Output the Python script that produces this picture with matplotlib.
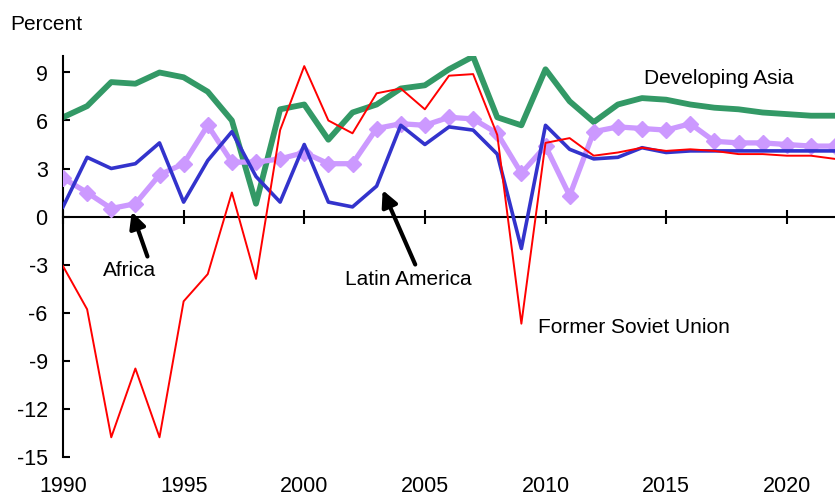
import matplotlib.pyplot as plt
import numpy as np

plt.rcParams['font.family'] = ['Liberation Sans', 'DejaVu Sans']
plt.rcParams['font.size'] = 15
plt.rcParams['axes.unicode_minus'] = False

years = np.arange(1990, 2023)

# 数据
dev_asia = [6.2, 6.9, 8.4, 8.3, 9.0, 8.7, 7.8, 6.0, 0.8, 6.7, 7.0, 4.8, 6.5, 7.0, 8.0,
            8.2, 9.2, 10.0, 6.2, 5.7, 9.2, 7.2, 5.9, 7.0, 7.4, 7.3, 7.0, 6.8, 6.7, 6.5,
            6.4, 6.3, 6.3]
fsu = [-3.1, -5.8, -13.8, -9.5, -13.8, -5.3, -3.6, 1.5, -3.9, 5.4, 9.4, 6.0, 5.2, 7.7,
       8.0, 6.7, 8.8, 8.9, 5.1, -6.7, 4.6, 4.9, 3.8, 4.0, 4.3, 4.1, 4.2, 4.1, 3.9, 3.9,
       3.8, 3.8, 3.6]
latin_america = [0.6, 3.7, 3.0, 3.3, 4.6, 0.9, 3.5, 5.3, 2.5, 0.9, 4.5, 0.9, 0.6, 1.9,
                 5.7, 4.5, 5.6, 5.4, 3.9, -2.0, 5.7, 4.2, 3.6, 3.7, 4.3, 4.0, 4.1, 4.1,
                 4.1, 4.1, 4.1, 4.1, 4.1]
africa = [2.4, 1.5, 0.5, 0.8, 2.6, 3.3, 5.7, 3.4, 3.4, 3.6, 4.0, 3.3, 3.3, 5.5, 5.8,
          5.7, 6.2, 6.1, 5.2, 2.7, 4.4, 1.3, 5.3, 5.6, 5.5, 5.4, 5.8, 4.7, 4.6, 4.6,
          4.5, 4.4, 4.4]

yticks = np.arange(-15, 10, 3)
xticks = np.arange(1990, 2021, 5)

fig = plt.figure(figsize=(8.35, 4.98), dpi=100)
ax = fig.add_axes([63 / 835, 41.5 / 498, 772 / 835, 400 / 498])

ax.plot(years, dev_asia, color='#339966', lw=4.2, zorder=2)
ax.plot(years, africa, color='#CC99FF', lw=3.8, marker='D', ms=8, zorder=3)
ax.plot(years, latin_america, color='#3333CC', lw=2.6, zorder=4)
ax.plot(years, fsu, color='#FF0000', lw=1.4, zorder=5)

ax.set_xlim(1990, 2022)
ax.set_ylim(-15, 10)
ax.set_yticks(yticks)
ax.set_xticks(xticks)

ax.spines['top'].set_visible(False)
ax.spines['right'].set_visible(False)
ax.spines['left'].set_linewidth(1.5)
ax.spines['bottom'].set_position(('data', 0))
ax.spines['bottom'].set_linewidth(1.5)
ax.tick_params(axis='y', direction='in', length=5, width=1.5, pad=11, labelsize=15.5)
ax.tick_params(axis='x', direction='inout', length=10, width=1.5, labelbottom=False)

# 年份标签放在底部
sec = ax.secondary_xaxis('bottom')
sec.set_xticks(xticks)
sec.spines['bottom'].set_visible(False)
sec.tick_params(length=0, pad=14, labelsize=15.5)

fig.text(10 / 835, 1 - 24 / 498, 'Percent', ha='left', va='center', fontsize=15)

ax.text(2014.1, 8.6, 'Developing Asia', ha='left', va='center')
ax.text(2009.7, -6.95, 'Former Soviet Union', ha='left', va='center')
ax.text(1992.75, -3.4, 'Africa', ha='center', va='center')
ax.text(2004.3, -3.95, 'Latin America', ha='center', va='center')

arrow = dict(arrowstyle='-|>', color='black', lw=3, mutation_scale=24, shrinkA=0, shrinkB=0)
ax.annotate('', xy=(1992.85, 0.3), xytext=(1993.5, -2.5), arrowprops=arrow)
ax.annotate('', xy=(2003.25, 1.65), xytext=(2004.6, -3.0), arrowprops=arrow)

plt.savefig('out.png', dpi=100)
